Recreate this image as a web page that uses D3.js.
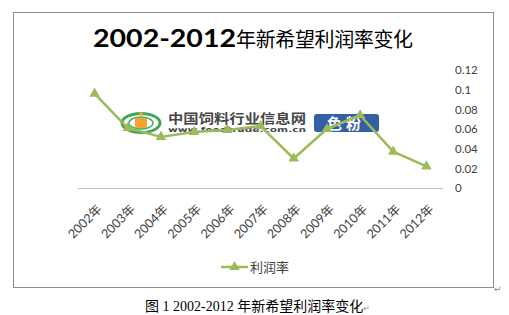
<!DOCTYPE html>
<html>
<head>
<meta charset="utf-8">
<script src="https://cdn.jsdelivr.net/npm/d3@7"></script>
<style>
  html, body { margin: 0; padding: 0; background: #fff; }
  svg { display: block; }
</style>
</head>
<body>
<svg id="chart" width="509" height="315"></svg>
<script>
// Profit margin of New Hope, 2002-2012
const years = ["2002年", "2003年", "2004年", "2005年", "2006年", "2007年",
               "2008年", "2009年", "2010年", "2011年", "2012年"];
const margin = [0.096, 0.061, 0.052, 0.057, 0.059, 0.063,
                0.030, 0.060, 0.074, 0.037, 0.022];
const yTicks = [0, 0.02, 0.04, 0.06, 0.08, 0.1, 0.12];
const yTickLabels = ["0", "0.02", "0.04", "0.06", "0.08", "0.1", "0.12"];
const seriesName = "利润率";
const titleYears = "2002-2012";
const titleText = "年新希望利润率变化";
const caption = "图 1 2002-2012 年新希望利润率变化";

const green = "#9BBB59";
const svg = d3.select("#chart");

// chart area frame
svg.append("rect")
  .attr("x", 13.5).attr("y", 12.5)
  .attr("width", 480).attr("height", 275)
  .attr("fill", "#fff").attr("stroke", "#8c8c8c").attr("stroke-width", 1);

// paragraph mark after the chart object
svg.append("text").attr("x", 494).attr("y", 292)
  .attr("font-family", "DejaVu Sans").attr("font-size", 9).attr("fill", "#888")
  .text("↵");

// title: bold year range followed by regular CJK text
const title = svg.append("text")
  .attr("x", 93).attr("y", 47)
  .attr("fill", "#000");
title.append("tspan")
  .attr("font-family", "Lato, 'Liberation Sans'")
  .attr("font-weight", "bold").attr("font-size", 24)
  .attr("textLength", 143).attr("lengthAdjust", "spacingAndGlyphs")
  .text(titleYears);
title.append("tspan")
  .attr("font-family", "'Noto Sans CJK SC'")
  .attr("font-size", 20)
  .attr("textLength", 177).attr("lengthAdjust", "spacing")
  .text(titleText);

// scales
const x = d3.scaleBand().domain(years).range([78, 443]);
const y = d3.scaleLinear().domain([0, 0.12]).range([188, 70]);

// website watermark sitting behind the plotted line
const wm = svg.append("g").attr("opacity", 0.9);
wm.append("ellipse").attr("cx", 141).attr("cy", 123).attr("rx", 19).attr("ry", 9.5)
  .attr("fill", "none").attr("stroke", "#2e9b48").attr("stroke-width", 3);
wm.append("ellipse").attr("cx", 141).attr("cy", 123).attr("rx", 12).attr("ry", 6)
  .attr("fill", "#fff").attr("stroke", "#3aa856").attr("stroke-width", 1.5);
wm.append("rect").attr("x", 135).attr("y", 118).attr("width", 12).attr("height", 10)
  .attr("fill", "#f39a1e");
wm.append("circle").attr("cx", 141).attr("cy", 114).attr("r", 2).attr("fill", "#f39a1e");
wm.append("text").attr("x", 168).attr("y", 123)
  .attr("font-family", "'Noto Sans CJK SC'").attr("font-weight", "bold")
  .attr("font-size", 13).attr("fill", "#333")
  .attr("textLength", 138).attr("lengthAdjust", "spacingAndGlyphs")
  .text("中国饲料行业信息网");
wm.append("text").attr("x", 168).attr("y", 131.5)
  .attr("font-family", "'DejaVu Sans'").attr("font-weight", "bold")
  .attr("font-size", 7).attr("fill", "#333")
  .attr("textLength", 138).attr("lengthAdjust", "spacingAndGlyphs")
  .text("www.feedtrade.com.cn");
wm.append("rect").attr("x", 314).attr("y", 114).attr("width", 65).attr("height", 18)
  .attr("rx", 3).attr("fill", "#1f4e9c");
wm.append("text").attr("x", 346).attr("y", 128.5).attr("text-anchor", "middle")
  .attr("font-family", "'Noto Sans CJK SC'").attr("font-weight", "bold")
  .attr("font-size", 15).attr("fill", "#fff").attr("letter-spacing", 4)
  .text("色粉");

// baseline axis
svg.append("line")
  .attr("x1", 78).attr("x2", 443)
  .attr("y1", y(0) + 0.5).attr("y2", y(0) + 0.5)
  .attr("stroke", "#bfbfbf").attr("stroke-width", 1);

// right value axis labels
const yAxis = d3.axisRight(y)
  .tickValues(yTicks)
  .tickSize(0)
  .tickPadding(0)
  .tickFormat((d, i) => yTickLabels[i]);
const gy = svg.append("g").attr("transform", "translate(455,0)").call(yAxis);
gy.select(".domain").remove();
gy.selectAll("text")
  .attr("font-family", "Lato, 'Liberation Sans'")
  .attr("font-size", 11.5)
  .attr("fill", "#404040");

// category labels, slanted
const xAxis = d3.axisBottom(x).tickSize(0).tickPadding(0);
const gx = svg.append("g").attr("transform", "translate(0,188)").call(xAxis);
gx.select(".domain").remove();
gx.selectAll("text")
  .attr("font-family", "Lato, 'Noto Sans CJK SC'")
  .attr("font-size", 12.5)
  .attr("fill", "#404040")
  .attr("text-anchor", "end")
  .attr("dy", null)
  .attr("y", 0)
  .attr("transform", "translate(8,22) rotate(-45)");

// series line
const line = d3.line()
  .x((d, i) => x(years[i]) + x.bandwidth() / 2)
  .y(d => y(d));
svg.append("path")
  .datum(margin)
  .attr("d", line)
  .attr("fill", "none")
  .attr("stroke", green)
  .attr("stroke-width", 2.5)
  .attr("stroke-linejoin", "round");

// triangle markers
const tri = d3.symbol().type(d3.symbolTriangle).size(48);
svg.append("g").selectAll("path")
  .data(margin)
  .join("path")
  .attr("d", tri)
  .attr("transform", (d, i) => `translate(${x(years[i]) + x.bandwidth() / 2},${y(d)})`)
  .attr("fill", green);

// legend
const lg = svg.append("g").attr("transform", "translate(221,267)");
lg.append("line").attr("x1", 0).attr("x2", 27).attr("y1", 0).attr("y2", 0)
  .attr("stroke", green).attr("stroke-width", 2.5);
lg.append("path").attr("d", tri).attr("transform", "translate(13.5,0)").attr("fill", green);
lg.append("text").attr("x", 29).attr("y", 5)
  .attr("font-family", "'Noto Sans CJK SC'").attr("font-size", 13)
  .attr("fill", "#404040").text(seriesName);

// caption below the chart
const cap = svg.append("text")
  .attr("x", 145).attr("y", 311)
  .attr("font-family", "'Liberation Serif', 'Noto Sans CJK SC'")
  .attr("font-size", 14).attr("fill", "#000");
cap.append("tspan").text(caption);
cap.append("tspan").attr("font-family", "DejaVu Sans").attr("font-size", 8)
  .attr("fill", "#888").text("↵");
</script>
</body>
</html>
